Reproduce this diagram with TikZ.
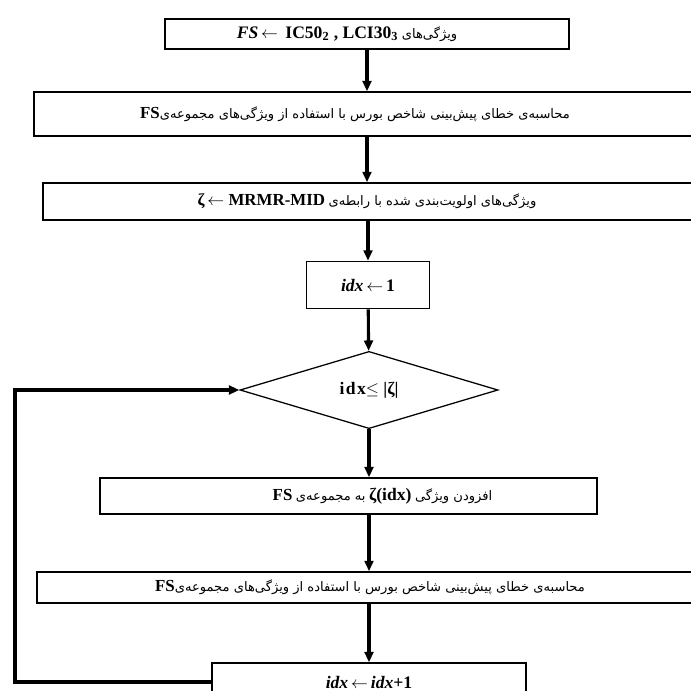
\documentclass[tikz,border=0pt]{standalone}
\usepackage{fontspec}
\setmainfont{Liberation Serif}
\newfontfamily\arabicfont[Script=Arabic,Scale=0.93]{DejaVu Sans}
\TeXXeTstate=1
\usepackage{tikz}
\usetikzlibrary{arrows.meta,positioning,shapes.geometric}
\newcommand{\fa}[1]{{\arabicfont\beginR #1\endR}}
\newcommand{\bigtx}{\fontsize{12.5}{14}\selectfont}

\begin{document}
\begin{tikzpicture}[x=0.025cm,y=-0.025cm,font=\normalsize,
  procbox/.style={draw,line width=1pt,inner sep=0pt,align=center},
  condbox/.style={draw,diamond,line width=0.9pt,inner sep=0pt,aspect=3.35},
  flow/.style={-{Triangle[length=0.26cm,width=0.22cm]},line width=2.2pt}]
\useasboundingbox (0,0) rectangle (691,691);
% steps of the selection
\node[procbox,minimum width=10.1cm,minimum height=0.75cm] (fs) at (367,34)
  {{\bigtx\textbf{\textit{FS}\,$\leftarrow$\, IC50\textsubscript{2} , LCI30\textsubscript{3}}}\ \fa{ویژگی‌های}\hspace*{1cm}};
\node[procbox,minimum width=16.75cm,minimum height=1.1cm] (err1) at (369,114)
  {{\large\textbf{FS}}\fa{محاسبه‌ی خطای پیش‌بینی شاخص بورس با استفاده از ویژگی‌های مجموعه‌ی}\hspace*{0.7cm}};
\node[procbox,minimum width=16.5cm,minimum height=0.93cm] (rank) at (373,201.5)
  {{\large\textbf{ζ\,$\leftarrow$ MRMR-MID}}\ \fa{ویژگی‌های اولویت‌بندی شده با رابطه‌ی}\hspace*{0.3cm}};
\node[procbox,minimum width=3.08cm,minimum height=1.18cm] (init) at (368,285)
  {\bigtx\textbf{\textit{idx}\,$\leftarrow$\,1}};
\node[condbox,minimum width=6.45cm,minimum height=1.93cm] (cond) at (369,390)
  {\bigtx\textbf{i\kern1pt d\kern1pt x}$\leq$\ \textbf{|ζ|}};
\node[procbox,minimum width=12.43cm,minimum height=0.9cm] (add) at (348.5,496)
  {\hspace*{1.7cm}{\large\textbf{FS}}\ \fa{به مجموعه‌ی}\ {\bigtx\textbf{ζ(idx)}}\ \fa{افزودن ویژگی}};
\node[procbox,minimum width=16.65cm,minimum height=0.78cm] (err2) at (370,587.5)
  {{\large\textbf{FS}}\fa{محاسبه‌ی خطای پیش‌بینی شاخص بورس با استفاده از ویژگی‌های مجموعه‌ی}};
\node[procbox,minimum width=7.85cm,minimum height=0.95cm] (inc) at (369,682)
  {\bigtx\textbf{\textit{idx}\,$\leftarrow$\,\textit{idx}+1}};
\coordinate (back) at (15,682);

\draw[flow] (fs) -- (fs|-err1.north);
\draw[flow] (err1.south-|fs) -- (fs|-rank.north);
\draw[flow] (rank.south-|init) -- (init);
\draw[flow] (init) -- (cond);
\draw[flow] (cond) -- (cond|-add.north);
\draw[flow] (add.south-|cond) -- (cond|-err2.north);
\draw[flow] (err2.south-|inc) -- (inc);
\draw[flow] (inc.west) -- (back) |- (cond.west);
\end{tikzpicture}
\end{document}
